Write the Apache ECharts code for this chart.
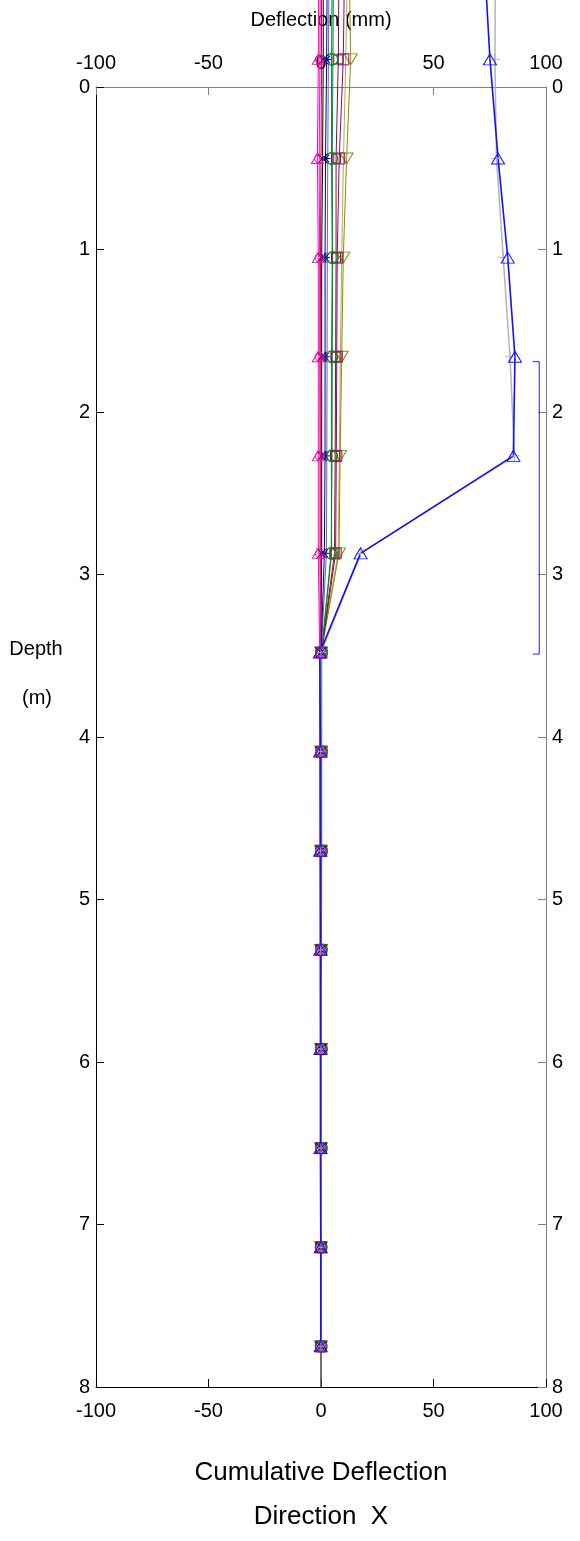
<!DOCTYPE html>
<html><head><meta charset="utf-8">
<script src="https://cdn.jsdelivr.net/npm/echarts@6/dist/echarts.min.js"></script>
<style>html,body{margin:0;padding:0;background:#fff}#c{width:580px;height:1541px}</style>
</head><body><div id="c"></div>
<script>
// Depth of each reading (m)
const depths = [-0.78, -0.17, 0.44, 1.05, 1.66, 2.27, 2.87, 3.48, 4.09, 4.70, 5.31, 5.92, 6.53, 7.14, 7.75];
// Base of the casing (m) and its deflection (mm)
const baseDepth = 8.0;
const baseValue = 0.0;
// Cumulative deflection per reading set (mm)
const pinkVals    = [-1.0, -1.2, -1.6, -1.2, -1.2, -1.2, -1.2, -0.6, -0.5, -0.4, -0.4, -0.3, -0.3, -0.2, -0.2];
const magentaVals = [-0.3, -0.5, -0.8, -0.6, -0.6, -0.5, -0.5, -0.3, -0.3, -0.2, -0.2, -0.2, -0.1, -0.1, 0.0];
const crimsonVals = [0.3, 0.2, 0.0, -0.2, -0.1, -0.1, -0.1, -0.2, -0.2, -0.2, -0.1, -0.1, -0.1, 0.0, 0.0];
const blackVals   = [1.0, 1.0, 0.7, 0.3, 0.3, 0.3, 0.3, -0.1, -0.1, 0.0, 0.0, 0.0, 0.0, 0.0, 0.0];
const navyVals    = [2.8, 2.5, 2.0, 1.8, 1.8, 1.8, 1.5, 0.0, 0.0, 0.1, 0.0, 0.0, 0.0, 0.0, 0.0];
const slateVals   = [3.6, 3.3, 3.0, 2.8, 2.7, 2.6, 2.4, 0.1, 0.1, 0.1, 0.0, 0.0, 0.0, 0.0, 0.0];
const greenVals   = [5.0, 4.7, 4.7, 5.0, 4.7, 4.7, 4.7, 0.3, 0.3, 0.3, 0.2, 0.2, 0.2, 0.1, 0.1];
const tealVals    = [5.6, 5.3, 5.0, 5.2, 5.0, 4.9, 4.5, 0.2, 0.2, 0.2, 0.1, 0.1, 0.1, 0.1, 0.0];
const maroonVals  = [8.0, 7.7, 6.7, 6.7, 6.5, 6.3, 6.0, 0.1, 0.1, 0.1, 0.1, 0.0, 0.0, 0.0, 0.0];
const purpleVals  = [10.5, 9.9, 8.1, 7.2, 7.0, 6.8, 6.5, 0.2, 0.2, 0.1, 0.1, 0.1, 0.0, 0.0, 0.0];
const khakiVals   = [11.8, 11.0, 10.0, 9.2, 8.6, 8.2, 7.6, 0.1, 0.1, 0.1, 0.0, 0.0, 0.0, 0.0, 0.0];
const oliveVals   = [12.5, 13.2, 11.4, 9.9, 9.2, 8.5, 8.0, 0.0, 0.0, 0.0, 0.0, 0.0, 0.0, 0.0, 0.0];
const grayVals    = [77.5, 77.3, 78.0, 81.0, 84.0, 86.0, 17.6, 0.0, -0.1, -0.1, -0.1, 0.0, 0.0, 0.0, 0.0];
const blueVals    = [72.6, 75.1, 78.7, 83.0, 86.2, 85.5, 17.6, -0.5, -0.3, -0.3, -0.2, -0.2, -0.2, -0.1, -0.1];
// Shear zone bracket (depth range, m) and its x extent (mm)
const shearZone = [1.69, 3.49];
const bracketX = [94.1, 97.0];
// Axis ticks
const xTicks = { min: -100, max: 100, interval: 50 };
const yTicks = { min: 0, max: 8, interval: 1 };

const FONT = 'Liberation Sans, Arial, sans-serif';
const X_PATH = 'path://M0,0L10,10M10,0L0,10';
const PLUS_PATH = 'path://M5,0L5,10M0,5L10,5';
const STAR_PATH = 'path://M5,0L5,10M0,5L10,5M1.5,1.5L8.5,8.5M8.5,1.5L1.5,8.5';

function mk(vals, color, symbol, size, width, extra) {
  return Object.assign({
    type: 'line',
    data: depths.map((d, i) => [vals[i], d]),
    xAxisIndex: 0, yAxisIndex: 0,
    clip: false,
    symbol: symbol || 'none',
    showSymbol: !!symbol,
    symbolSize: size || 10,
    lineStyle: { color: color, width: width || 1 },
    itemStyle: { color: 'rgba(0,0,0,0)', borderColor: color, borderWidth: 1 },
    emphasis: { disabled: true },
    silent: true,
    z: 3
  }, extra || {});
}

const last = depths.length - 1;
const series = [
  {
    type: 'line', xAxisIndex: 0, yAxisIndex: 0, clip: false, silent: true,
    symbol: 'none', showSymbol: false, z: 2,
    data: [[blackVals[last], depths[last]], [baseValue, baseDepth]],
    lineStyle: { color: '#404040', width: 1.5 }
  },
  mk(khakiVals, '#b0b040', null),
  mk(oliveVals, '#8c8c00', 'triangle', [13, 11], 1, { symbolRotate: 180 }),
  mk(purpleVals, '#900090', 'rect', 11),
  mk(maroonVals, '#901010', 'rect', 9),
  mk(tealVals, '#008080', 'circle', 11),
  mk(greenVals, '#009000', 'circle', 12),
  mk(slateVals, '#6666c0', null),
  mk(navyVals, '#000090', STAR_PATH, 10),
  mk(blackVals, '#000000', X_PATH, 10),
  mk(crimsonVals, '#c00030', null),
  mk(magentaVals, '#ff00ff', 'circle', 9),
  mk(pinkVals, '#ff1090', 'triangle', [12, 10]),
  mk(grayVals, '#b4b4b4', PLUS_PATH, 10, 1.5),
  mk(blueVals, '#1010ff', 'triangle', [13, 11], 1.6),
  {
    type: 'line', xAxisIndex: 0, yAxisIndex: 0, clip: false, silent: true,
    symbol: 'none', showSymbol: false,
    data: [[bracketX[0], shearZone[0]], [bracketX[1], shearZone[0]], [bracketX[1], shearZone[1]], [bracketX[0], shearZone[1]]],
    lineStyle: { color: '#2020ff', width: 1 }
  }
];

function xAxis(pos, color) {
  return {
    type: 'value', position: pos, min: xTicks.min, max: xTicks.max, interval: xTicks.interval,
    axisLine: { show: true, onZero: false, lineStyle: { color: color, width: 1 } },
    axisTick: { show: true, inside: true, length: 8, lineStyle: { color: color } },
    axisLabel: { show: true, color: '#000', fontSize: 20, fontFamily: FONT, margin: 14 },
    splitLine: { show: false }
  };
}
function yAxis(pos, color) {
  return {
    type: 'value', position: pos, inverse: true, min: yTicks.min, max: yTicks.max, interval: yTicks.interval,
    axisLine: { show: true, onZero: false, lineStyle: { color: color, width: 1 } },
    axisTick: { show: true, inside: true, length: 8, lineStyle: { color: color } },
    axisLabel: { show: true, color: '#000', fontSize: 20, fontFamily: FONT, margin: 6,
                 verticalAlign: 'middle', padding: [0, 0, 14, 0] },
    splitLine: { show: false }
  };
}

const chart = echarts.init(document.getElementById('c'), null, { renderer: 'canvas' });
chart.setOption({
  animation: false,
  backgroundColor: '#fff',
  grid: { left: 96, right: 34, top: 87, bottom: 154, containLabel: false },
  xAxis: [xAxis('top', '#808080'), xAxis('bottom', '#000')],
  yAxis: [yAxis('left', '#000'), yAxis('right', '#808080')],
  series: series,
  graphic: [
    { type: 'text', x: 321, y: 20, z: -10, style: { text: 'Deflection (mm)', font: '20px ' + FONT, fill: '#000', align: 'center', verticalAlign: 'middle' } },
    { type: 'text', x: 36, y: 649, style: { text: 'Depth', font: '20px ' + FONT, fill: '#000', align: 'center', verticalAlign: 'middle' } },
    { type: 'text', x: 37, y: 698, style: { text: '(m)', font: '20px ' + FONT, fill: '#000', align: 'center', verticalAlign: 'middle' } },
    { type: 'text', x: 321, y: 1473, style: { text: 'Cumulative Deflection', font: '26px ' + FONT, fill: '#000', align: 'center', verticalAlign: 'middle' } },
    { type: 'text', x: 321, y: 1517, style: { text: 'Direction  X', font: '26px ' + FONT, fill: '#000', align: 'center', verticalAlign: 'middle' } }
  ]
});
</script></body></html>
